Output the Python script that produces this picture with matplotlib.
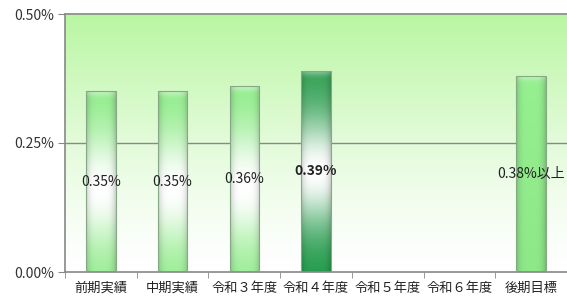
"""Bar chart of yearly rates vs. target with gradient bars."""

import matplotlib.pyplot as plt
import numpy as np
from matplotlib.colors import to_rgb

plt.rcParams['font.family'] = ['Noto Sans CJK JP', 'DejaVu Sans']

# Data
categories = ['前期実績', '中期実績', '令和３年度', '令和４年度', '令和５年度', '令和６年度', '後期目標']
values = [0.35, 0.35, 0.36, 0.39, np.nan, np.nan, 0.38]
value_labels = ['0.35%', '0.35%', '0.36%', '0.39%', '', '', '0.38%以上']
y_ticks = [0.0, 0.25, 0.5]
y_tick_labels = ['0.00%', '0.25%', '0.50%']

# Styles
styles = ['light', 'light', 'light', 'dark', None, None, 'flat']
bold_label = [False, False, False, True, False, False, False]


def bar_image(style, n=200, m=40):
    # vertical profile, row 0 = top of bar
    t = np.linspace(1, 0, n)[:, None]  # 1 at top, 0 at bottom
    if style == 'dark':
        top, bot = np.array(to_rgb('#2f9f50')), np.array(to_rgb('#1f9a48'))
        centre, width = 0.5, 0.28
    elif style == 'light':
        top, bot = np.array(to_rgb('#8eec88')), np.array(to_rgb('#92ec8c'))
        centre, width = 0.46, 0.32
    else:
        top, bot = np.array(to_rgb('#96f090')), np.array(to_rgb('#8ee888'))
        centre, width = 0.5, 0.0
    base = bot + (top - bot) * t
    if width > 0:
        w = np.exp(-((t - centre) / width) ** 2)
    else:
        w = np.zeros_like(t)
    # light cap at the top
    cap = 0.35 * np.exp(-((1 - t) / 0.025) ** 2)
    w = np.clip(w + cap, 0, 1)
    col = base[:, None, :] * (1 - w[:, :, None]) + w[:, :, None]
    col = np.repeat(col, m, axis=1)
    # darker sides
    x = np.linspace(-1, 1, m)[None, :, None]
    shade = 1 - 0.18 * np.abs(x) ** 4
    col = col * shade
    return np.clip(col, 0, 1)


fig = plt.figure(figsize=(5.67, 3.02), dpi=100)
ax = fig.add_axes([65 / 567, 30 / 302, 502 / 567, 258 / 302])

# Background gradient
bg_top = np.array(to_rgb('#b9f6a2'))
tt = np.linspace(1, 0, 256)[:, None, None]
bg = np.ones((256, 1, 3)) * (1 - tt ** 1.3) + bg_top * tt ** 1.3
ax.imshow(bg, extent=[0, 1, 0, 1], transform=ax.transAxes, aspect='auto', zorder=0)

index = np.arange(len(categories))
bars = ax.bar(index, values, 0.41, color='none', edgecolor='#86a886', linewidth=0.8, zorder=3)

for bar, style in zip(bars, styles):
    if style is None:
        continue
    x0, w, h = bar.get_x(), bar.get_width(), bar.get_height()
    im = ax.imshow(bar_image(style), extent=[x0, x0 + w, 0, h], aspect='auto', zorder=2)
    im.set_clip_path(bar)

# Value labels at the middle of each bar
for i, (v, lab, b) in enumerate(zip(values, value_labels, bold_label)):
    if np.isnan(v):
        continue
    ax.text(i, v / 2, lab, ha='center', va='center', fontsize=10,
            fontweight='bold' if b else 'normal', color='#222222', zorder=5)

# Gridline at 0.25%
ax.axhline(0.25, color='#888888', linewidth=1, zorder=1)

ax.set_xlim(-0.5, len(categories) - 0.5)
ax.set_ylim(0, 0.5)
ax.set_yticks(y_ticks)
ax.set_yticklabels(y_tick_labels, fontsize=10, color='#333333')
ax.set_xticks(index)
ax.set_xticklabels(categories, fontsize=9.5, color='#222222')
ax.set_xticks(np.arange(len(categories) + 1) - 0.5, minor=True)
ax.tick_params(axis='x', which='major', length=0, pad=7)
ax.tick_params(axis='x', which='minor', length=4, color='#888888')
ax.tick_params(axis='y', length=5, color='#888888', pad=3)

for side in ['left', 'bottom', 'top']:
    ax.spines[side].set_color('#888888')
    ax.spines[side].set_linewidth(1.2)
ax.spines['right'].set_visible(False)

fig.savefig('out.png', dpi=100)
